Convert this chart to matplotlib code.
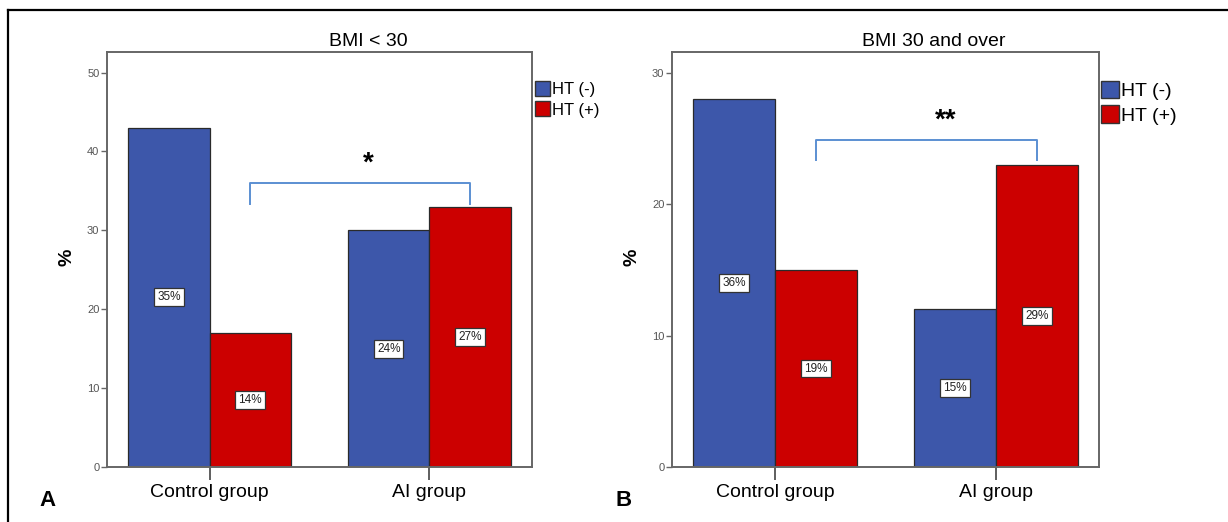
import matplotlib
matplotlib.use("Agg")
import matplotlib.pyplot as plt
from matplotlib.patches import Patch
from matplotlib.lines import Line2D
import numpy as np

plt.rcParams['font.family'] = ['Liberation Sans', 'DejaVu Sans']

categories = ["Control group", "AI group"]
series_names = ["HT (-)", "HT (+)"]

# Panel A: BMI < 30
a_title = "BMI < 30"
a_ht_neg = [43, 30]
a_ht_pos = [17, 33]
a_lab_neg = ["35%", "24%"]
a_lab_pos = ["14%", "27%"]
a_yticks = [0, 10, 20, 30, 40, 50]
a_sig = "*"

# Panel B: BMI 30 and over
b_title = "BMI 30 and over"
b_ht_neg = [28, 12]
b_ht_pos = [15, 23]
b_lab_neg = ["36%", "15%"]
b_lab_pos = ["19%", "29%"]
b_yticks = [0, 10, 20, 30]
b_sig = "**"

BLUE = "#3D57AA"
RED = "#CC0000"
BRACKET = "#5B8FD2"
SPINE = "#666666"

fig = plt.figure(figsize=(12.28, 5.22), dpi=100)
W, H = 1228, 522


def fx(px):
    return px / W


def fy(py):
    return (H - py) / H


def panel(left_px, right_px, neg, pos, lab_neg, lab_pos, yticks, ymax, title,
          sig, br_top, br_leg, sig_y, sig_x, leg_fs, leg_box, sig_fs):
    ax = fig.add_axes([fx(left_px), fy(467), fx(right_px - left_px), (467 - 52) / H])
    x = np.arange(len(categories))
    w = 0.37
    ax.bar(x - w / 2, neg, width=w, color=BLUE, edgecolor="#2a2a2a", linewidth=0.9, zorder=2)
    ax.bar(x + w / 2, pos, width=w, color=RED, edgecolor="#2a2a2a", linewidth=0.9, zorder=2)
    box = dict(boxstyle="square,pad=0.25", facecolor="white", edgecolor="#333333", linewidth=0.9)
    for i in range(len(categories)):
        ax.text(x[i] - w / 2, neg[i] / 2, lab_neg[i], ha="center", va="center",
                fontsize=8.5, color="#222222", bbox=box, zorder=4)
        ax.text(x[i] + w / 2, pos[i] / 2, lab_pos[i], ha="center", va="center",
                fontsize=8.5, color="#222222", bbox=box, zorder=4)
    ax.set_xlim(-0.466, 1.466)
    ax.set_ylim(0, ymax)
    ax.set_yticks(yticks)
    ax.set_xticks(x)
    ax.set_xticklabels(categories, fontsize=14)
    ax.tick_params(axis="x", length=9.4, width=1.1, color="#333333", pad=3, direction="out")
    ax.tick_params(axis="y", length=4.5, width=1.0, color=SPINE, labelsize=8,
                   labelcolor="#555555", pad=1)
    for s in ax.spines.values():
        s.set_color(SPINE)
        s.set_linewidth(1.4)
    ax.set_title(title, fontsize=14, pad=4, x=0.614)
    ax.set_ylabel("%", fontsize=14, fontweight="bold")
    ax.yaxis.set_label_coords(-0.073, 0.506)
    # significance bracket between HT(+) bars
    x0, x1 = x[0] + w / 2, x[1] + w / 2
    ax.plot([x0, x0, x1, x1], [br_leg, br_top, br_top, br_leg], color=BRACKET,
            linewidth=1.4, zorder=3)
    ax.text(sig_x, sig_y, sig, ha="center", va="center", fontsize=sig_fs,
            fontweight="bold", color="black")
    handles = [Patch(facecolor=BLUE, edgecolor="#333333", linewidth=1.0),
               Patch(facecolor=RED, edgecolor="#333333", linewidth=1.0)]
    fig.legend(handles, series_names, loc="upper left", bbox_to_anchor=leg_box,
               bbox_transform=fig.transFigure, frameon=False, fontsize=leg_fs,
               handlelength=0.9, handleheight=1.0, handletextpad=0.15,
               labelspacing=0.25, borderpad=0, borderaxespad=0)
    return ax


panel(107, 532, a_ht_neg, a_ht_pos, a_lab_neg, a_lab_pos, a_yticks, 52.6, a_title,
      a_sig, 36.0, 33.3, 38.4, 0.72, 12, (fx(535), fy(81)), 20)
panel(672, 1099, b_ht_neg, b_ht_pos, b_lab_neg, b_lab_pos, b_yticks, 31.6, b_title,
      b_sig, 24.9, 23.4, 26.4, 0.77, 14, (fx(1101), fy(81)), 20)

fig.text(fx(47), fy(500), "A", fontsize=16, fontweight="bold", ha="center", va="center")
fig.text(fx(624), fy(500), "B", fontsize=16, fontweight="bold", ha="center", va="center")

# outer frame (left and top edges)
fig.add_artist(Line2D([fx(8), fx(8)], [fy(10), 0], transform=fig.transFigure,
                      color="black", linewidth=1.6))
fig.add_artist(Line2D([fx(8), 1], [fy(10), fy(10)], transform=fig.transFigure,
                      color="black", linewidth=1.6))

fig.savefig("out.png", dpi=100)
